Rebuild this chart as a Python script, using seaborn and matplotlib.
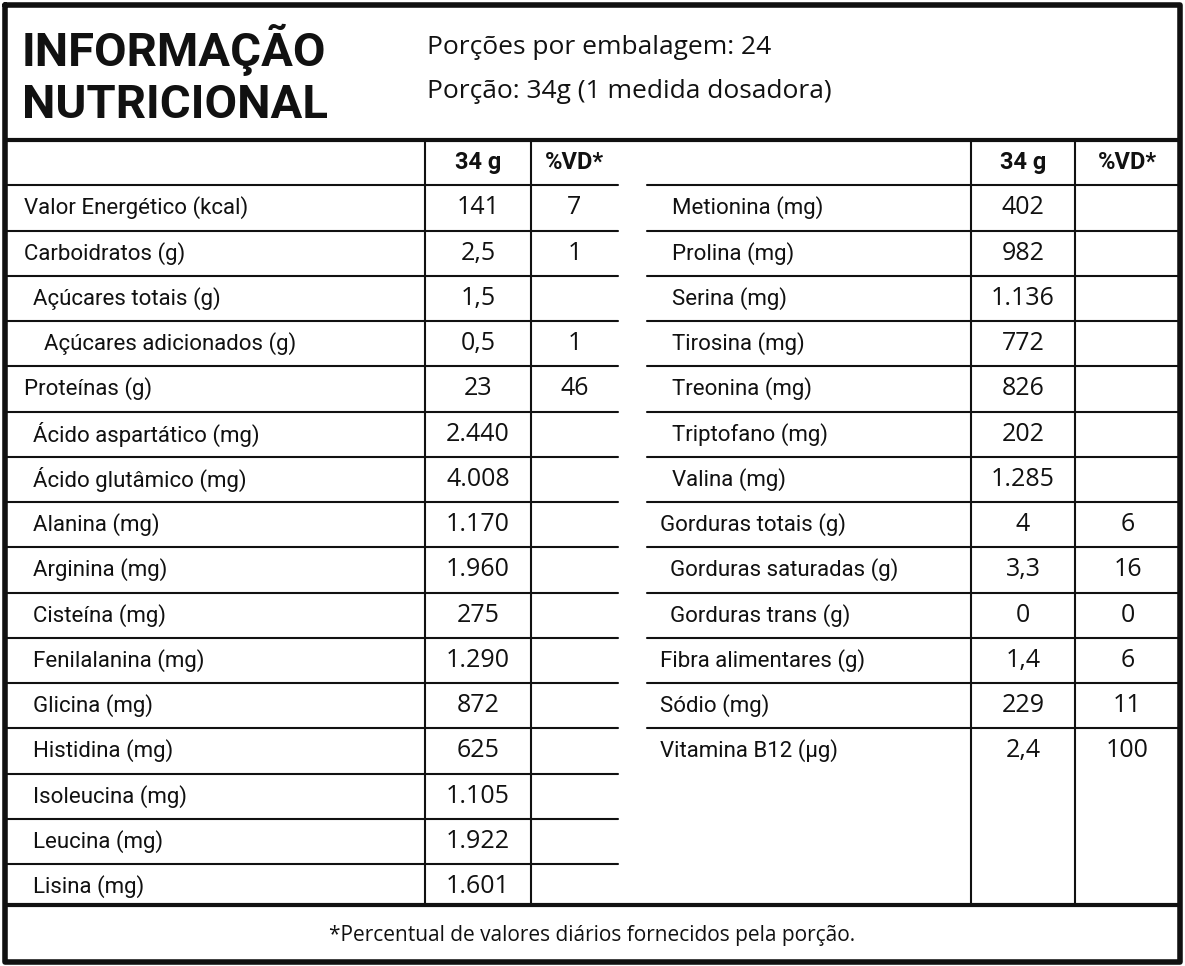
import matplotlib.pyplot as plt
import seaborn as sns

sns.set_theme(style="white")
plt.rcParams["font.family"] = ["Roboto", "DejaVu Sans"]

TITLE = "INFORMAÇÃO\nNUTRICIONAL"
SERVINGS = ["Porções por embalagem: 24", "Porção: 34g (1 medida dosadora)"]
FOOTNOTE = "*Percentual de valores diários fornecidos pela porção."
HEADERS = ["34 g", "%VD*"]

left_labels = ["Valor Energético (kcal)", "Carboidratos (g)", "Açúcares totais (g)",
               "Açúcares adicionados (g)", "Proteínas (g)", "Ácido aspartático (mg)",
               "Ácido glutâmico (mg)", "Alanina (mg)", "Arginina (mg)", "Cisteína (mg)",
               "Fenilalanina (mg)", "Glicina (mg)", "Histidina (mg)", "Isoleucina (mg)",
               "Leucina (mg)", "Lisina (mg)"]
left_indent = [0, 0, 1, 2, 0, 1, 1, 1, 1, 1, 1, 1, 1, 1, 1, 1]
left_amount = ["141", "2,5", "1,5", "0,5", "23", "2.440", "4.008", "1.170", "1.960",
               "275", "1.290", "872", "625", "1.105", "1.922", "1.601"]
left_vd = ["7", "1", "", "1", "46", "", "", "", "", "", "", "", "", "", "", ""]

right_labels = ["Metionina (mg)", "Prolina (mg)", "Serina (mg)", "Tirosina (mg)",
                "Treonina (mg)", "Triptofano (mg)", "Valina (mg)", "Gorduras totais (g)",
                "Gorduras saturadas (g)", "Gorduras trans (g)", "Fibra alimentares (g)",
                "Sódio (mg)", "Vitamina B12 (µg)"]
right_indent = [2, 2, 2, 2, 2, 2, 2, 0, 1, 1, 0, 0, 0]
right_amount = ["402", "982", "1.136", "772", "826", "202", "1.285", "4", "3,3", "0",
                "1,4", "229", "2,4"]
right_vd = ["", "", "", "", "", "", "", "6", "16", "0", "6", "11", "100"]

fig = plt.figure(figsize=(11.85, 9.66), dpi=100)
ax = fig.add_axes([0, 0, 1, 1])
ax.set_xlim(0, 1185)
ax.set_ylim(966, 0)
ax.axis("off")

K = "#111111"
top, row_h, bottom = 140, 45.25, 905

# outer frame, header and footer rules
ax.plot([5, 1180, 1180, 5, 5], [5, 5, 962, 962, 5], color=K, lw=4)
ax.plot([5, 1180], [top, top], color=K, lw=3)
ax.plot([5, 1180], [bottom, bottom], color=K, lw=3)

ax.text(22, 75, TITLE, fontsize=34, fontweight="bold", va="center", ha="left",
        color=K, linespacing=1.2)
ax.text(427, 47, SERVINGS[0], fontsize=19, va="center", color=K, family="Open Sans")
ax.text(427, 92, SERVINGS[1], fontsize=19, va="center", color=K, family="Open Sans")
ax.text(592, 935, FOOTNOTE, fontsize=15, ha="center", va="center", color=K,
        family="Open Sans")


def draw_table(labels, indent, amount, vd, x0, x1, x2, x3, base_x, step, n_lines):
    for xv in (x1, x2):
        ax.plot([xv, xv], [top, bottom], color=K, lw=1.5)
    for i in range(n_lines):
        y = top + row_h * (i + 1)
        ax.plot([x0, x3], [y, y], color=K, lw=1.5)
    ax.text((x1 + x2) / 2, top + row_h / 2, HEADERS[0], fontsize=17, fontweight="bold",
            ha="center", va="center", color=K)
    ax.text((x2 + x3) / 2, top + row_h / 2, HEADERS[1], fontsize=17, fontweight="bold",
            ha="center", va="center", color=K)
    for i, lab in enumerate(labels):
        yc = top + row_h * (i + 1.5)
        ax.text(base_x + step[indent[i]], yc, lab, fontsize=16, ha="left", va="center",
                color=K)
        ax.text((x1 + x2) / 2, yc, amount[i], fontsize=18, ha="center", va="center",
                color=K, family="Open Sans")
        ax.text((x2 + x3) / 2, yc, vd[i], fontsize=18, ha="center", va="center",
                color=K, family="Open Sans")


draw_table(left_labels, left_indent, left_amount, left_vd, 5, 425, 531, 618,
           24, [0, 9, 20], len(left_labels))
draw_table(right_labels, right_indent, right_amount, right_vd, 647, 971, 1075, 1180,
           660, [0, 10, 12], len(right_labels))

fig.savefig("out.png", dpi=100)
